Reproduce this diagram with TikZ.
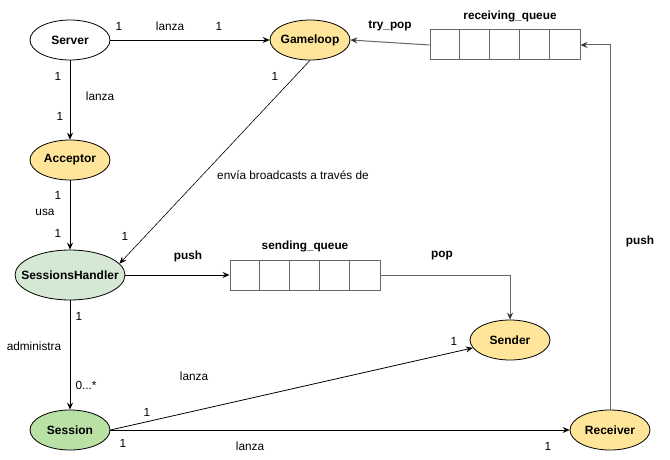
\documentclass[tikz,border=0pt]{standalone}
\usepackage{fontspec}
\setmainfont{Liberation Sans}
\usetikzlibrary{arrows.meta,shapes.geometric,calc}
\definecolor{yelfill}{HTML}{FFE599}
\definecolor{lgreen}{HTML}{D5E8D4}
\definecolor{dgreen}{HTML}{B9E0A5}
\definecolor{qgray}{HTML}{666666}
\newcommand{\zw}[1]{\makebox[0pt]{#1}}
\begin{document}
\begin{tikzpicture}[x=1pt,y=-1pt,
  ent/.style={ellipse,draw=black,line width=0.8pt,minimum width=80pt,minimum height=40pt,inner sep=0pt,font=\bfseries\fontsize{12}{14}\selectfont},
  yel/.style={ent,fill=yelfill},
  lbl/.style={font=\fontsize{11.8}{13}\selectfont,inner sep=0pt},
  blbl/.style={font=\bfseries\fontsize{11.8}{13}\selectfont,inner sep=0pt},
  arr/.style={-{Stealth[length=7pt,width=6pt,inset=2.5pt]},line width=0.8pt},
  garr/.style={-{Stealth[length=7pt,width=6pt,inset=2.5pt,color=black!80]},line width=1pt,draw=qgray},
  queue/.style={rectangle,draw=qgray,line width=1pt,minimum width=150pt,minimum height=30pt,inner sep=0pt},
  qline/.style={draw=qgray,line width=1pt}]
\useasboundingbox (0,0) rectangle (670,460);

% nodes
\node[ent,fill=white] (Server) at (70,40) {\zw{Server}};
\node[yel] (Gameloop) at (310,40) {\zw{Gameloop}};
\node[yel] (Acceptor) at (70,160) {\zw{Acceptor}};
\node[ent,fill=lgreen,minimum width=110pt,minimum height=50pt] (SH) at (70,275) {\zw{SessionsHandler}};
\node[ent,fill=dgreen] (Session) at (70,430) {\zw{Session}};
\node[yel] (Sender) at (510,340) {\zw{Sender}};
\node[yel] (Receiver) at (610,430) {\zw{Receiver}};

% queues
\node[queue] (rq) at (505,45) {};
\node[queue] (sq) at (305,275) {};
\foreach \i in {1,...,4} {
  \draw[qline] ($(rq.north west)+(30*\i,0)$) -- ($(rq.south west)+(30*\i,0)$);
  \draw[qline] ($(sq.north west)+(30*\i,0)$) -- ($(sq.south west)+(30*\i,0)$);
}
\node[blbl] (rqlabel) at (510,16) {receiving\_queue};
\node[blbl] (sqlabel) at (305,246) {sending\_queue};

% connectors
\draw[arr] (Server) -- (Gameloop);
\draw[arr] (Server) -- (Acceptor);
\draw[arr] (Acceptor) -- (SH);
\draw[arr,line width=0.6pt] (Gameloop.south) -- (SH.13);
\draw[garr] (rq.west) -- (Gameloop.east);
\draw[garr] (Receiver.north) |- (rq.east);
\draw[arr] (SH) -- (sq.west);
\draw[garr] (sq.east) -| (Sender.north);
\draw[arr] (SH) -- (Session);
\draw[arr] (Session.east) -- (Sender.192);
\draw[arr] (Session.east) -- (Receiver.west);

% labels
\node[lbl] (l1) at (119,26) {1};
\node[lbl] (l2) at (170,26) {lanza};
\node[lbl] (l3) at (219,26) {1};
\node[lbl] (l4) at (58,76) {1};
\node[lbl] (l5) at (100,96) {lanza};
\node[lbl] (l6) at (60,116) {1};
\node[lbl] (l7) at (275,76) {1};
\node[lbl] (l8) at (293,175) {envía broadcasts a través de};
\node[blbl] (l9) at (390,26) {try\_pop};
\node[lbl] (l10) at (58,195) {1};
\node[lbl] (l11) at (45,212) {usa};
\node[lbl] (l12) at (58,233) {1};
\node[lbl] (l13) at (125,236) {1};
\node[blbl] (l14) at (188,256) {push};
\node[blbl] (l15) at (442,256) {pop};
\node[blbl] (l16) at (640,241) {push};
\node[lbl] (l17) at (79,316) {1};
\node[lbl] (l18) at (34,346) {administra};
\node[lbl] (l19) at (86,385) {0...*};
\node[lbl] (l20) at (194,376) {lanza};
\node[lbl] (l21) at (147,412) {1};
\node[lbl] (l22) at (123,443) {1};
\node[lbl] (l23) at (250,446) {lanza};
\node[lbl] (l24) at (454,341) {1};
\node[lbl] (l25) at (548,446) {1};
\end{tikzpicture}
\end{document}
